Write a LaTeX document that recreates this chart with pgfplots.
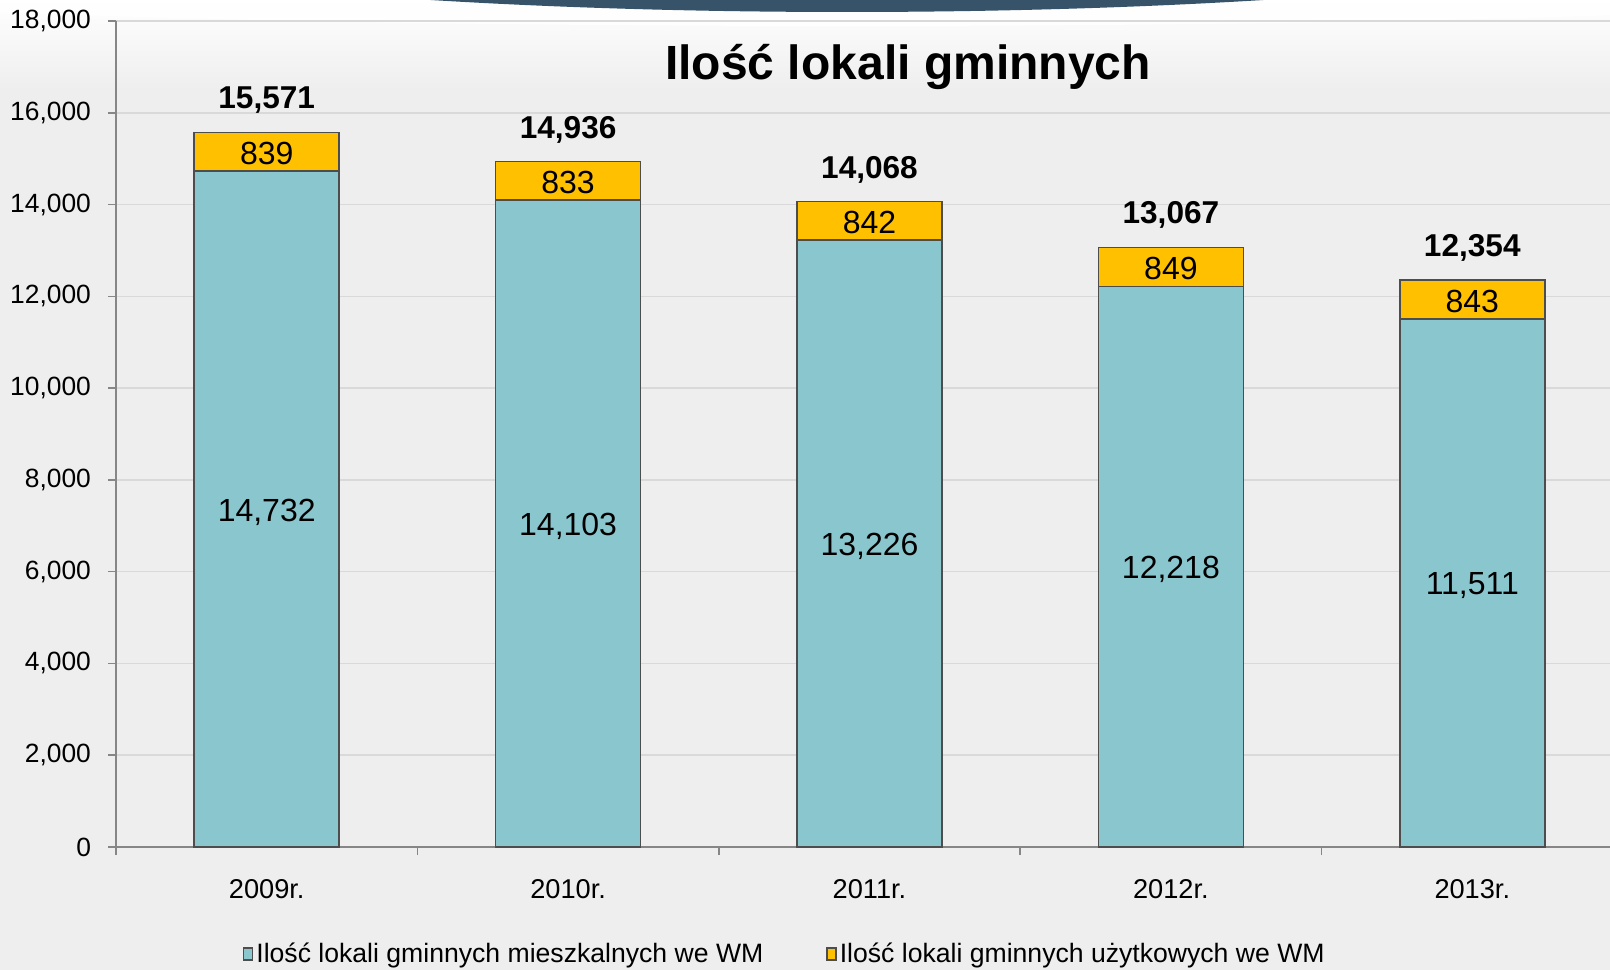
\documentclass[border=0pt]{standalone}
\usepackage{pgfplots}
\usepackage{pgfplotstable}
\pgfplotsset{compat=1.18}
\usepackage{fontspec}
\setmainfont{Liberation Sans}
\definecolor{bg}{HTML}{EEEEEE}
\definecolor{barteal}{HTML}{8AC6CE}
\definecolor{baryellow}{HTML}{FFC000}
\definecolor{bardraw}{HTML}{4D4D4D}
\definecolor{axisgray}{HTML}{868686}
\definecolor{gridgray}{HTML}{D9D9D9}
\definecolor{banner}{HTML}{36536A}

\pgfplotstableread{
x lower upper total
0 14732 839 15571
1 14103 833 14936
2 13226 842 14068
3 12218 849 13067
4 11511 843 12354
}\data

\pgfplotsset{
  sqlegend/.style={legend image code/.code={\draw[##1, draw=bardraw, line width=0.7pt] (0pt,-3pt) rectangle (4.5pt,3pt);}},
  commonaxis/.style={
    at={(58pt,61.5pt)}, anchor=south west,
    scale only axis, width=753.5pt, height=413pt,
    xmin=-0.5, xmax=4.5, ymin=0, ymax=18000,
    /pgf/number format/1000 sep={,},
    /pgf/number format/assume math mode=true,
  }
}

\begin{document}
\begin{tikzpicture}
\useasboundingbox (0,0) rectangle (805pt,485pt);
\clip (0,0) rectangle (805pt,485pt);
\fill[bg] (0,0) rectangle (805pt,485pt);
\shade[top color=white, bottom color=bg] (0,440pt) rectangle (805pt,485pt);
\fill[white, opacity=0.8] (423.5pt,492pt) ellipse (560pt and 20pt);
\fill[banner] (423.5pt,535pt) ellipse (462pt and 56pt);

\begin{axis}[
  commonaxis,
  ybar stacked, bar width=72.5pt,
  axis x line*=bottom, axis y line*=left,
  axis line style={axisgray, line width=0.9pt},
  ytick={0,2000,...,18000},
  ymajorgrids, grid style={gridgray, line width=0.8pt},
  xtick={0,1,2,3,4},
  xticklabels={2009r.,2010r.,2011r.,2012r.,2013r.},
  minor xtick={-0.5,0.5,1.5,2.5,3.5,4.5},
  major x tick style={draw=none},
  tick align=outside,
  major tick length=4pt, minor tick length=4pt,
  tick style={axisgray, line width=0.8pt},
  x tick label style={font=\fontsize{13.6}{16}\selectfont, yshift=-8.5pt},
  y tick label style={font=\fontsize{13.2}{16}\selectfont, xshift=-5pt},
  scaled y ticks=false,
  legend columns=2,
  legend style={draw=none, fill=none, at={(axis description cs:0.080,-0.1295)}, anchor=west,
    font=\fontsize{13.3}{16}\selectfont,
    /tikz/every even column/.append style={column sep=30pt},
    nodes={inner sep=1.5pt}},
]
\addplot[fill=barteal, draw=bardraw, line width=0.8pt, sqlegend] table[x=x, y=lower]{\data};
\addlegendentry{Ilość lokali gminnych mieszkalnych we WM}
\addplot[fill=baryellow, draw=bardraw, line width=0.8pt, sqlegend] table[x=x, y=upper]{\data};
\addlegendentry{Ilość lokali gminnych użytkowych we WM}
\end{axis}

\begin{axis}[
  commonaxis, hide axis, clip=false,
  point meta=explicit, nodes near coords,
]
\addplot[draw=none, mark=none, every node near coord/.append style={anchor=center, yshift=-1.5pt, font=\fontsize{16}{19}\selectfont}]
  table[x=x, y expr=\thisrow{lower}/2, meta=lower]{\data};
\addplot[draw=none, mark=none, every node near coord/.append style={anchor=center, yshift=-1pt, font=\fontsize{16}{19}\selectfont}]
  table[x=x, y expr=\thisrow{lower}+\thisrow{upper}/2, meta=upper]{\data};
\addplot[draw=none, mark=none, every node near coord/.append style={anchor=center, yshift=16pt, font=\bfseries\fontsize{15.8}{19}\selectfont}]
  table[x=x, y=total, meta=total]{\data};
\end{axis}

\node[font=\bfseries\fontsize{24}{29}\selectfont, anchor=base] at (454pt,445pt) {Ilość lokali gminnych};
\end{tikzpicture}
\end{document}
